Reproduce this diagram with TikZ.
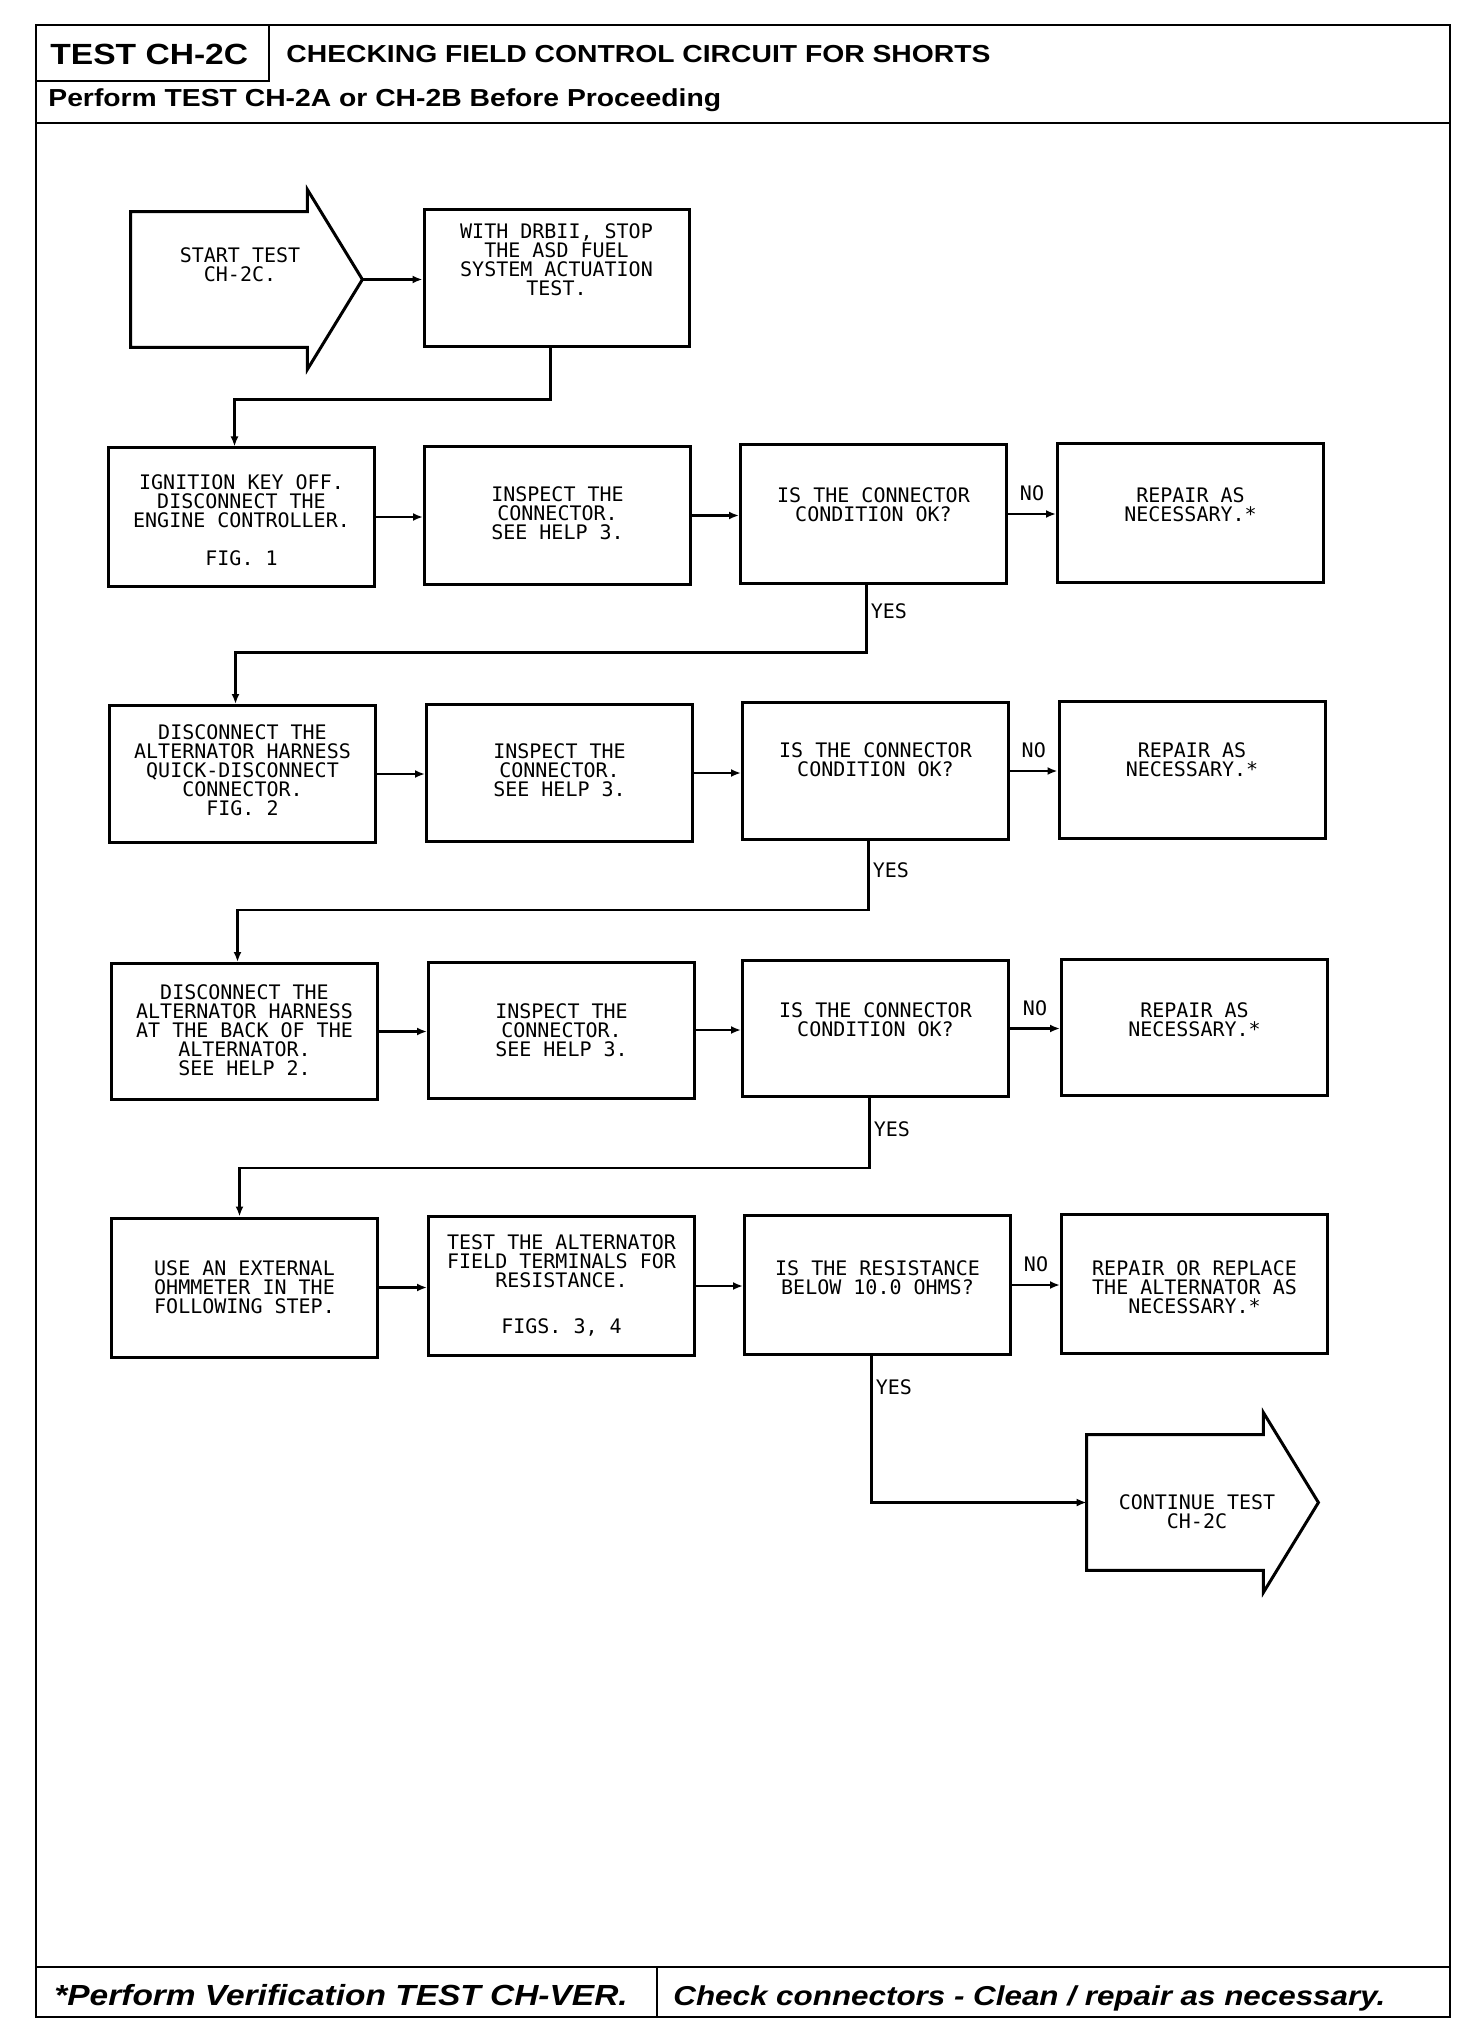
\documentclass[tikz,border=0pt]{standalone}
\usepackage{fontspec}
\setmainfont{Liberation Sans}
\newfontfamily\hdr[FakeStretch=1.15]{Liberation Sans}
\newfontfamily\plot{DejaVu Sans Mono}
\usetikzlibrary{calc,arrows.meta}
\begin{document}
\begin{tikzpicture}[x=0.5pt,y=-0.5pt,
  box/.style={draw,line width=1.5pt,minimum width=133pt,inner sep=0pt},
  txt/.style={font=\plot\fontsize{10pt}{9.5pt}\selectfont,align=center,inner sep=0pt},
  lbl/.style={font=\plot\fontsize{10pt}{9.5pt}\selectfont,inner sep=0pt},
  conn/.style={line width=1.2pt,-{Latex[length=5pt,width=4pt]}},
  shp/.style={line width=1.5pt,line join=miter},
  frm/.style={line width=1.4pt},
  hbig/.style={font=\hdr\bfseries\fontsize{14.6pt}{17pt}\selectfont,anchor=base west,inner sep=0pt},
  hmid/.style={font=\hdr\bfseries\fontsize{12.3pt}{15pt}\selectfont,anchor=base west,inner sep=0pt},
  hfoot/.style={font=\hdr\bfseries\itshape,anchor=base west,inner sep=0pt}]
\useasboundingbox (0,0) rectangle (1472,2032);
\fill[white] (0,0) rectangle (1472,2032);

% frame
\draw[frm] (36,25) rectangle (1450,2017);
\draw[frm] (269,25) -- (269,81) -- (36,81);
\draw[frm] (36,123) -- (1450,123);
\draw[frm] (36,1967) -- (1450,1967);
\draw[frm] (657,1967) -- (657,2017);

\node[hbig] (ttl) at (50,65) {TEST CH-2C};
\node[hmid] (ttl2) at (286,63) {CHECKING FIELD CONTROL CIRCUIT FOR SHORTS};
\node[hmid] (pre) at (48,107) {Perform TEST CH-2A or CH-2B Before Proceeding};
\node[hfoot] (f1) at (54,2005) {\fontsize{14.55pt}{17pt}\selectfont *Perform Verification TEST CH-VER.};
\node[hfoot] (f2) at (673,2005) {\fontsize{13.64pt}{17pt}\selectfont Check connectors - Clean / repair as necessary.};

% start arrow
\node[inner sep=0pt,minimum width=88pt,minimum height=67.5pt] (start) at (219,279.5) {};
\coordinate (starttip) at ($(start.east)+(55,0)$);
\draw[shp] (start.north west) -- (start.north east) -- ++(0,-22) -- (starttip)
  -- ($(start.south east)+(0,22)$) -- (start.south east) -- (start.south west) -- cycle;
\node[txt] (starttxt) at (240,265) {START TEST\\CH-2C.};

\node[box,minimum width=132.5pt,minimum height=68.5pt] (b0) at (556.5,278.5) {};
\node[txt] (b0t) at (556.5,260) {WITH DRBII, STOP\\THE ASD FUEL\\SYSTEM ACTUATION\\TEST.};

% row 1
\node[box,minimum height=69pt] (a1) at (241.5,517) {};
\node[box,minimum height=69pt] (b1) at (557.5,515.5) {};
\node[box,minimum height=69pt] (c1) at (873.5,514) {};
\node[box,minimum height=69pt] (d1) at (1190.5,513) {};
\node[txt] (a1t) at (241.5,520) {IGNITION KEY OFF.\\DISCONNECT THE\\ENGINE CONTROLLER.\\[9.5pt]FIG. 1};
\node[txt] (b1t) at (557.5,513) {INSPECT THE\\CONNECTOR.\\SEE HELP 3.};
\node[txt] (c1t) at (873.5,505) {IS THE CONNECTOR\\CONDITION OK?};
\node[txt] (d1t) at (1190.5,505) {REPAIR AS\\NECESSARY.*};

% row 2
\node[box,minimum height=68.5pt] (a2) at (242.5,774) {};
\node[box,minimum height=68.5pt] (b2) at (559.5,773) {};
\node[box,minimum height=68.5pt] (c2) at (875.5,771) {};
\node[box,minimum height=68.5pt] (d2) at (1192,770) {};
\node[txt] (a2t) at (242.5,770) {DISCONNECT THE\\ALTERNATOR HARNESS\\QUICK-DISCONNECT\\CONNECTOR.\\FIG. 2};
\node[txt] (b2t) at (559.5,770) {INSPECT THE\\CONNECTOR.\\SEE HELP 3.};
\node[txt] (c2t) at (875.5,760) {IS THE CONNECTOR\\CONDITION OK?};
\node[txt] (d2t) at (1192,760) {REPAIR AS\\NECESSARY.*};

% row 3
\node[box,minimum height=68pt] (a3) at (244.5,1031.5) {};
\node[box,minimum height=68pt] (b3) at (561.5,1030) {};
\node[box,minimum height=68pt] (c3) at (875.5,1028.5) {};
\node[box,minimum height=68pt] (d3) at (1194.5,1027) {};
\node[txt] (a3t) at (244.5,1030) {DISCONNECT THE\\ALTERNATOR HARNESS\\AT THE BACK OF THE\\ALTERNATOR.\\SEE HELP 2.};
\node[txt] (b3t) at (561.5,1030) {INSPECT THE\\CONNECTOR.\\SEE HELP 3.};
\node[txt] (c3t) at (875.5,1020) {IS THE CONNECTOR\\CONDITION OK?};
\node[txt] (d3t) at (1194.5,1020) {REPAIR AS\\NECESSARY.*};

% row 4
\node[box,minimum height=69.5pt] (a4) at (244.5,1287.5) {};
\node[box,minimum height=69.5pt] (b4) at (561.5,1286) {};
\node[box,minimum height=69.5pt] (c4) at (877.5,1285) {};
\node[box,minimum height=69.5pt] (d4) at (1194.5,1284) {};
\node[txt] (a4t) at (244.5,1287) {USE AN EXTERNAL\\OHMMETER IN THE\\FOLLOWING STEP.};
\node[txt] (b4t) at (561.5,1285) {TEST THE ALTERNATOR\\FIELD TERMINALS FOR\\RESISTANCE.\\[13.5pt]FIGS. 3, 4};
\node[txt] (c4t) at (877.5,1278) {IS THE RESISTANCE\\BELOW 10.0 OHMS?};
\node[txt] (d4t) at (1194.5,1287) {REPAIR OR REPLACE\\THE ALTERNATOR AS\\NECESSARY.*};

% continue arrow
\node[inner sep=0pt,minimum width=88pt,minimum height=67.5pt] (cont) at (1175,1502.5) {};
\coordinate (conttip) at ($(cont.east)+(55,0)$);
\draw[shp] (cont.north west) -- (cont.north east) -- ++(0,-22) -- (conttip)
  -- ($(cont.south east)+(0,22)$) -- (cont.south east) -- (cont.south west) -- cycle;
\node[txt] (contt) at (1197,1512) {CONTINUE TEST\\CH-2C};

% connectors
\draw[conn] (starttip) -- (starttip -| b0.west);
\draw[conn] ($(b0.south)+(-6,0)$) -- ++(0,51) -| ($(a1.north)+(-7,0)$);

\draw[conn] (a1.east) -- (a1.east -| b1.west);
\draw[conn] (b1.east) -- (b1.east -| c1.west);
\draw[conn] (c1.east) -- node[lbl,above=6pt] (no1) {NO} (c1.east -| d1.west);
\draw[conn] ($(c1.south)+(-7,0)$) -- ++(0,68) -| ($(a2.north)+(-7,0)$);
\node[lbl,anchor=west] (yes1) at ($(c1.south)+(-3,27)$) {YES};

\draw[conn] (a2.east) -- (a2.east -| b2.west);
\draw[conn] (b2.east) -- (b2.east -| c2.west);
\draw[conn] (c2.east) -- node[lbl,above=6pt] (no2) {NO} (c2.east -| d2.west);
\draw[conn] ($(c2.south)+(-7,0)$) -- ++(0,69) -| ($(a3.north)+(-7,0)$);
\node[lbl,anchor=west] (yes2) at ($(c2.south)+(-3,29)$) {YES};

\draw[conn] (a3.east) -- (a3.east -| b3.west);
\draw[conn] (b3.east) -- (b3.east -| c3.west);
\draw[conn] (c3.east) -- node[lbl,above=6pt] (no3) {NO} (c3.east -| d3.west);
\draw[conn] ($(c3.south)+(-6,0)$) -- ++(0,70) -| ($(a4.north)+(-5,0)$);
\node[lbl,anchor=west] (yes3) at ($(c3.south)+(-2,31)$) {YES};

\draw[conn] (a4.east) -- (a4.east -| b4.west);
\draw[conn] (b4.east) -- (b4.east -| c4.west);
\draw[conn] (c4.east) -- node[lbl,above=6pt] (no4) {NO} (c4.east -| d4.west);
\draw[conn] ($(c4.south)+(-6,0)$) |- (cont.west);
\node[lbl,anchor=west] (yes4) at ($(c4.south)+(-2,31)$) {YES};
\end{tikzpicture}
\end{document}
